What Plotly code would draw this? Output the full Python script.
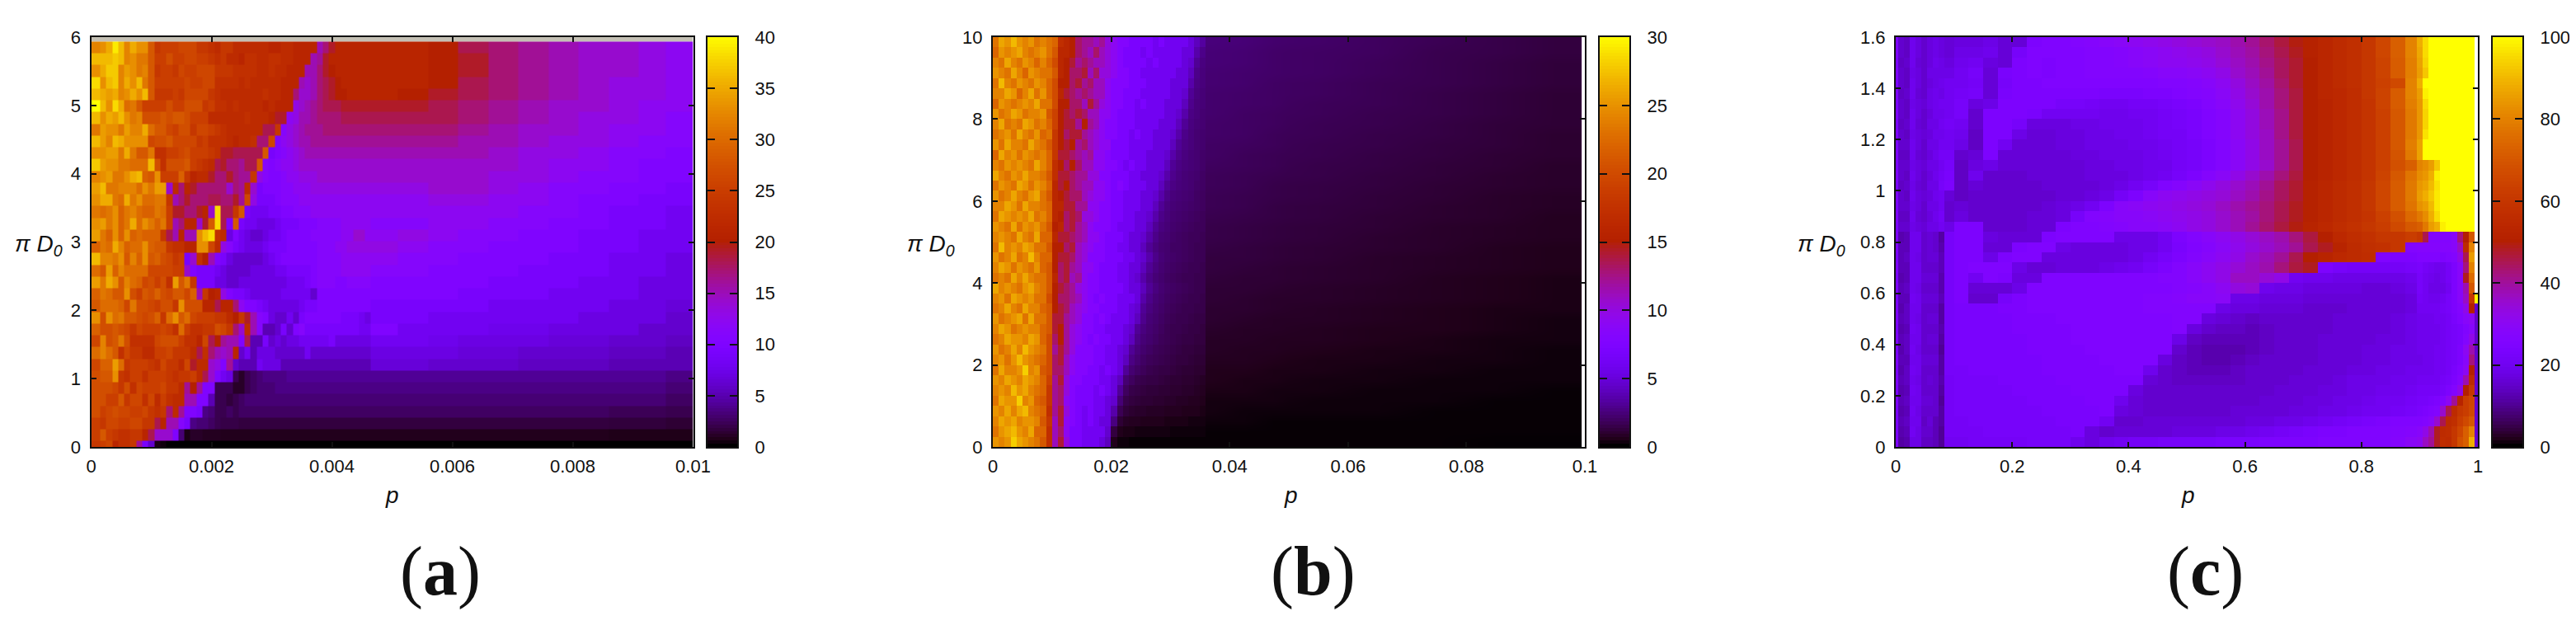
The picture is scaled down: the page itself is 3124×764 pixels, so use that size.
import math
import plotly.graph_objects as go

W, H = 3124, 764
OFF = 8            # the page's own body margin
FW, FH = W - 2*OFF, H - 2*OFF
TOP, BOT = 45, 542

def fx(px):
    return (px - OFF) / FW
def fy(px):
    return 1 - (px - OFF) / FH

# ---------- panel (a): rows listed from the top of the plot to the bottom ----------
a_left = [
[32,33,35,39,36,32,35,33,33,28,24,25,25,25,26,26,26,24,24,23,22,24,24,22,22,22,22,22,22,21,21,22,22,21,21,21,21,15,17,19,21,21,21,21,21,21],
[36,36,36,37,36,32,33,31,31,28,25,25,27,25,25,26,26,25,25,24,23,24,22,22,21,23,23,22,22,23,23,22,22,21,21,21,15,16,19,21,21,21,21,21,21,21],
[33,35,37,37,32,34,33,31,32,28,24,25,25,24,26,25,25,26,26,26,24,24,24,23,23,23,23,22,22,23,22,22,21,21,21,15,15,17,19,20,21,21,21,21,21,21],
[38,33,36,37,32,35,33,36,31,28,25,25,25,25,25,26,25,25,26,26,23,23,23,23,22,23,22,22,22,22,22,21,21,21,15,14,15,17,18,19,20,21,21,21,21,21],
[36,35,34,35,32,33,35,33,36,28,24,24,24,25,24,26,26,26,26,24,23,22,22,22,22,22,22,22,23,22,22,21,21,17,14,14,15,17,18,19,20,20,21,21,21,21],
[40,36,33,38,35,30,31,28,25,25,25,25,27,25,25,27,27,27,24,25,23,23,22,23,22,22,22,22,21,22,21,21,21,13,14,15,16,17,18,18,18,19,19,19,19,19],
[36,33,35,34,36,33,31,32,27,27,27,28,27,28,28,27,25,25,25,22,22,22,22,22,22,23,22,22,22,21,19,19,12,13,15,15,16,17,17,17,17,18,18,18,18,18],
[31,34,33,33,31,34,32,32,35,30,28,28,26,25,27,27,24,26,26,25,24,23,22,22,22,22,22,22,18,18,24,11,13,14,15,16,16,16,17,17,17,17,17,17,17,17],
[36,34,32,36,35,33,33,33,33,26,27,27,28,26,26,26,26,24,25,23,23,23,22,21,22,22,23,17,17,26,10,12,13,14,15,15,16,16,16,16,16,16,16,16,16,16],
[33,33,34,34,31,35,31,28,28,31,23,23,25,25,26,27,25,25,25,24,23,19,19,18,18,18,18,18,28,9,10,11,12,13,14,15,15,15,15,15,15,15,15,15,15,15],
[37,34,33,33,31,31,30,30,30,36,27,23,27,27,27,28,25,24,23,22,18,19,17,17,16,18,18,28,11,10,11,12,12,13,14,14,14,14,14,14,14,14,14,14,14,14],
[32,33,34,31,31,33,35,36,29,28,33,25,25,25,29,24,21,22,22,19,17,17,19,17,16,16,24,13,11,10,10,11,12,12,13,13,13,14,14,14,14,14,14,14,14,14],
[34,36,31,31,32,32,32,30,33,31,34,34,14,22,17,21,19,17,17,17,17,17,14,17,16,22,14,9,10,10,10,11,11,12,12,12,13,13,13,13,13,13,13,13,13,13],
[33,35,35,31,30,35,31,33,30,30,31,31,24,15,17,19,17,17,17,18,18,17,17,19,16,26,13,9,9,9,10,11,11,11,12,12,12,12,12,12,12,12,12,12,12,12],
[31,30,31,33,29,31,32,30,29,29,31,30,25,19,19,17,17,19,21,14,38,18,18,24,28,9,8,8,8,9,9,10,10,11,11,11,12,12,12,12,12,12,12,12,12,12],
[33,34,31,33,29,31,35,30,33,31,29,31,25,15,17,21,21,14,19,28,38,18,10,28,9,8,8,7,7,7,8,9,9,9,10,10,10,11,11,11,11,12,12,12,12,12],
[34,31,29,33,29,33,29,30,29,29,29,24,18,15,21,15,15,33,36,38,23,22,7,10,8,7,6,6,7,8,8,9,10,10,10,10,11,11,11,11,11,12,12,14,14,12],
[29,31,30,35,32,29,30,30,33,29,28,28,24,23,23,21,21,33,33,26,22,13,11,9,8,7,7,7,8,9,9,9,10,10,10,10,10,11,11,11,12,12,13,13,13,13],
[36,32,32,31,33,28,32,29,33,28,29,27,26,24,25,9,14,23,20,15,10,9,7,6,6,6,6,6,7,8,9,10,10,10,10,10,10,11,11,11,11,12,12,12,12,12],
[30,28,34,29,32,30,30,30,30,26,26,26,26,25,25,14,10,9,9,9,8,7,6,6,6,6,7,7,7,7,8,8,9,9,9,9,10,11,11,11,11,12,12,12,12,12],
[34,31,35,33,28,32,30,29,26,27,25,27,23,34,28,31,24,9,9,9,7,7,6,6,7,7,7,7,7,7,7,7,8,8,8,9,10,11,11,11,10,10,11,11,11,11],
[29,31,30,28,28,33,27,25,28,27,29,27,26,28,28,26,29,15,24,20,21,13,10,9,9,8,7,7,7,7,7,8,8,8,8,8,6,10,10,10,10,10,10,10,10,10],
[28,30,30,30,29,26,31,27,27,26,25,27,27,24,33,27,27,27,21,21,18,21,21,17,12,10,10,9,8,7,7,7,7,7,8,9,9,10,10,10,10,10,10,10,10,10],
[33,27,33,30,31,28,28,27,26,27,29,24,30,33,28,30,26,25,25,25,24,24,22,20,24,19,15,11,10,7,6,6,8,6,9,10,10,10,10,10,10,9,9,9,8,7],
[29,27,27,28,27,26,24,26,25,25,25,26,25,23,30,25,23,23,24,24,27,26,24,17,14,22,15,11,5,5,6,9,6,10,11,9,9,9,9,9,9,9,9,9,8,8],
[26,32,27,28,31,27,23,23,23,23,26,27,27,27,25,23,23,21,26,18,20,16,15,15,10,18,5,5,9,6,7,6,7,7,8,8,8,8,8,9,7,7,7,7,7,7],
[30,32,30,28,23,26,24,24,22,22,25,25,26,24,24,24,22,18,23,17,15,14,15,21,6,8,5,7,7,7,6,6,6,6,6,8,6,6,6,6,6,6,6,6,6,6],
[26,29,29,34,30,24,25,25,25,24,23,26,24,24,22,26,19,22,22,14,13,10,16,6,5,5,5,8,7,7,7,5,5,5,5,5,5,5,5,5,5,5,5,5,5,5],
[27,28,28,33,24,23,25,25,23,25,25,25,24,23,24,24,25,22,18,14,10,8,7,2,1,2,2.5,3,3.5,3.5,3.5,3.5,4,4,4,4,4,4,4,4,4,4,4,4,4,4],
[27,27,27,26,24,27,23,26,25,25,25,26,24,24,22,16,20,16,10,10,2,2,2,1,1,2,2.5,3,3,3,3.5,3.5,3.5,3.5,3.5,3.5,3.5,3.5,3.5,3.5,3.5,3.5,3.5,3.5,3.5,3.5],
[27,27,25,25,28,24,26,26,23,26,22,25,23,22,22,15,15,10,10,5,2,2,1.5,2,2.5,3,3,3,3,3,3,3,3,3,3,3,3,3,3,3,3,3,3,3,3,3],
[27,25,26,27,26,26,25,25,26,24,23,24,17,22,16,10,10,9,3.5,3,2,2,2.5,2,2.5,2.5,2.5,2.5,2.5,2.5,2.5,2.5,2.5,2.5,2.5,2.5,2.5,2.5,2.5,2.5,2.5,2.5,2.5,2.5,2.5,2.5],
[25,24,26,26,25,25,26,26,24,24,18,21,15,15,11,9,3.5,3,3,2.5,2,1.8,1.8,1.8,1.6,1.6,1.6,1.6,1.6,1.6,1.6,1.6,1.6,1.6,1.6,1.6,1.6,1.6,1.6,1.6,1.6,1.6,1.6,1.6,1.6,1.6],
[25,28,25,24,23,23,24,24,21,18,14,14,14,10,3,0.5,1,1,0.8,0.8,0.8,0.7,0.7,0.7,0.7,0.7,0.7,0.7,0.7,0.7,0.7,0.7,0.7,0.7,0.7,0.7,0.7,0.7,0.7,0.7,0.7,0.7,0.7,0.7,0.7,0.7],
[24,25,26,21,23,23,24,16,9,6,0.5,0.3,0,0,0,0,0,0,0,0,0,0,0,0,0,0,0,0,0,0,0,0,0,0,0,0,0,0,0,0,0,0,0,0,0,0],
]
a_right = [
[21,21,20,18,17,16,15,14,14,13,12],[21,21,20,19,17,16,15,14,14,13,12],[21,21,20,19,17,16,15,14,14,13,12],
[21,21,20,18,17,16,15,14,13,13,12],[21,20,19,18,17,16,15,14,13,13,12],[19,19,18,17,16,15,14,14,13,12,12],
[18,18,18,17,16,15,14,13,13,12,11],[17,17,17,16,15,14,14,13,12,12,11],[16,16,16,15,15,14,13,13,12,11,11],
[15,15,15,15,14,13,13,12,11,11,10],[14,14,14,14,14,13,12,12,11,10,10],[14,14,14,14,13,13,12,11,11,10,10],
[13,13,14,14,13,12,11,11,10,10,9],[12,12,13,13,12,12,11,10,10,9,9],[12,12,12,12,12,11,11,10,9,9,8],
[11,11,12,12,11,11,10,10,9,9,8],[12,13,12,11,11,10,10,9,9,8,8],[13,12,11,11,10,10,10,9,9,8,8],
[12,11,11,10,10,10,9,9,8,8,7],[11,11,10,10,10,9,9,9,8,8,7],[10,10,10,10,9,9,9,8,8,7,7],
[10,10,10,9,9,9,8,8,8,7,7],[9,9,9,9,8,8,8,8,7,7,6.5],[9,9,8,8,8,8,8,7,7,7,6],
[10,8,8,8,7.5,7.5,7,7,7,6,6],[8,8,7.5,7,7,7,6.5,6.5,6,6,5.5],[7,7,7,6.5,6.5,6,6,6,5.5,5.5,5],
[6.5,6.5,6,6,6,5.5,5.5,5.5,5,5,5],[4,4,4,4,4,4,4,4,4,4,3.5],[3.5,3.5,3.5,3.5,3.5,3.5,3.5,3.5,3.5,3.5,3],
[3,3,3,3,3,3,3,3,3,3,2.5],[2.5,2.5,2.5,2.5,2.5,2.5,2.5,2.5,2.2,2.2,2],[1.6,1.6,1.6,1.6,1.6,1.6,1.6,1.6,1.5,1.5,1.3],
[0.7,0.7,0.7,0.7,0.7,0.7,0.7,0.7,0.6,0.6,0.6],[0,0,0,0,0,0,0,0,0,0,0],
]
a_col_edges_right = [0.0051,0.0056,0.0061,0.0066,0.0071,0.0076,0.0081,0.0086,0.0091,0.00955,0.01]
a_ticks_x = [0,0.002,0.004,0.006,0.008,0.01]
a_ticks_y = [0,1,2,3,4,5,6]
a_cb_ticks = [0,5,10,15,20,25,30,35,40]

# ---------- panel (b): rows from top to bottom, in three blocks of columns ----------
b_noise = [
[23,26,25,27,25,24,25,23,24,23],[22,25,24,25,26,24,23,24,25,23],[24,23,26,24,23,25,24,22,24,22],[25,24,23,26,24,22,25,24,23,23],
[23,27,24,23,25,24,23,25,24,22],[24,24,26,25,22,24,26,23,25,22],[22,25,24,23,24,25,24,26,23,23],[25,23,24,26,25,23,24,24,25,21],
[24,26,23,24,23,26,25,23,24,22],[23,24,25,23,26,24,23,25,22,23],[25,23,26,24,24,23,26,24,23,21],[22,26,24,25,23,25,24,23,24,22],
[24,23,25,24,25,24,23,26,24,22],[26,24,23,25,24,26,24,24,23,21],[23,25,24,23,26,25,23,25,24,22],[25,23,24,26,24,23,25,26,23,21],
[24,24,26,25,23,26,24,24,23,22],[23,26,25,24,25,24,26,23,24,22],[25,24,23,26,23,25,24,25,23,21],[24,25,24,23,26,24,23,26,22,22],
[23,27,24,25,24,26,25,23,23,21],[25,23,24,26,23,24,27,24,22,22],[24,26,25,23,25,24,23,25,22,21],[23,24,23,26,24,26,24,23,23,21],
[26,24,25,24,23,25,26,24,23,21],[24,25,23,26,25,24,25,23,23,20],[23,24,26,24,23,26,24,24,22,21],[25,23,24,25,26,23,26,23,23,21],
[24,26,25,23,24,25,24,24,22,21],[23,24,26,25,25,24,26,25,22,20],[25,23,24,26,24,27,25,24,23,20],[24,25,23,25,27,25,24,23,22,20],
[23,26,24,24,25,28,24,25,21,20],[25,24,26,25,24,26,25,24,22,19],[24,25,24,27,25,26,24,23,22,18],[23,26,25,25,28,24,25,22,21,18],
[25,24,26,24,26,27,24,23,22,17],[24,26,25,26,24,25,25,24,21,18],[23,25,26,27,25,24,26,22,22,17],[25,24,25,28,26,25,24,23,21,17],
]
b_band = [
[22,17,16,15,13,12,12,11,12,10,9,8,8,7,7,7,7,6,7,6,6,6,6,5,4,3.2],
[21,16,16,15,13,12,11,13,11,10,9,8,7,7,7,6,7,6,6,6,6,6,5,5,3.5,2.7],
[20,16,15,14,12,13,12,11,11,10,9,8,7,7,7,7,6,7,6,6,6,6,5,4.5,3,2.5],
[21,16,15,13,13,14,11,13,10,10,9,8,8,7,7,6,6,6,6,6,6,5,5,4,2.7,2.4],
[20,15,15,13,14,12,13,11,11,9,8,8,8,7,7,7,6,6,6,6,5,5,5,3.5,2.6,2.4],
[20,16,14,13,12,13,12,11,11,9,8,8,7,7,7,6,6,6,6,6,5,5,4.5,3,2.5,2.3],
[20,15,15,13,13,11,14,12,10,9,8,8,7,7,6,7,6,6,6,5,5,5,4,2.8,2.4,2.3],
[19,15,14,13,14,13,11,11,9,9,8,7,7,7,6,6,6,6,6,5,5,4.5,3.5,2.6,2.4,2.2],
[19,15,14,14,12,15,12,11,9,8,8,7,7,7,6,6,6,6,5,5,5,4,3,2.5,2.3,2.2],
[18,15,13,14,14,12,11,10,9,8,8,7,7,6,7,6,6,5,5,5,4.5,3.5,2.7,2.4,2.2,2.1],
[18,15,14,15,12,13,11,10,9,9,7,7,7,6,6,6,6,5,5,5,4,3,2.6,2.4,2.2,2.1],
[18,14,14,13,12,11,12,9,9,8,7,7,7,6,6,6,5,5,5,4.5,3.5,2.8,2.5,2.3,2.2,2.0],
[17,15,13,15,13,11,11,9,9,8,8,7,6,7,6,6,5,5,5,4,3,2.6,2.4,2.3,2.2,2.0],
[17,14,14,13,12,12,10,10,8,8,7,7,7,6,6,5,5,5,4.5,3.5,2.8,2.5,2.3,2.2,2.1,1.9],
[16,14,15,13,12,11,11,9,9,8,7,8,7,6,6,6,5,5,4,3,2.6,2.4,2.3,2.2,2.0,1.9],
[16,15,14,13,13,11,10,9,9,8,7,7,6,6,6,5,5,4.5,3.5,2.7,2.4,2.3,2.2,2.1,1.9,1.8],
[16,16,14,14,12,12,9,9,8,8,7,7,6,6,6,5,5,4,3,2.5,2.3,2.2,2.1,2.0,1.9,1.8],
[16,15,13,14,13,10,10,9,8,8,7,7,6,6,5,5,4.5,3.5,2.7,2.4,2.2,2.1,2.0,1.9,1.8,1.7],
[15,16,13,14,12,11,9,8,8,8,7,6,6,6,5,5,4,3,2.5,2.3,2.1,2.0,1.9,1.8,1.7,1.7],
[16,14,14,13,12,11,9,9,8,7,7,7,6,5,5,4.5,3.5,2.7,2.3,2.2,2.0,1.9,1.8,1.7,1.7,1.6],
[15,15,13,14,11,10,9,8,8,7,7,6,6,5,5,4,3,2.5,2.2,2.1,1.9,1.9,1.8,1.7,1.6,1.6],
[15,14,14,13,11,10,8,8,8,7,7,7,6,6,5,4.5,3.5,2.7,2.3,2.1,2.0,1.9,1.8,1.7,1.6,1.6],
[15,13,14,12,11,9,9,8,7,7,7,6,6,5,5,4,3,2.5,2.2,2.0,1.9,1.8,1.7,1.6,1.6,1.5],
[16,13,14,11,12,9,8,8,7,7,7,6,6,5,4.5,3.5,2.7,2.3,2.1,1.9,1.8,1.7,1.6,1.6,1.5,1.5],
[15,14,13,12,10,9,8,8,7,7,7,7,6,5,5,4,3,2.5,2.2,2.0,1.9,1.8,1.7,1.6,1.5,1.5],
[15,13,13,12,11,9,8,7,8,7,7,6,6,6,5,3.5,2.7,2.3,2.1,1.9,1.8,1.7,1.6,1.5,1.5,1.4],
[15,14,13,11,10,9,8,8,7,7,7,6,6,5,4.5,3,2.5,2.2,2.0,1.8,1.7,1.6,1.5,1.5,1.4,1.4],
[14,14,12,11,10,8,8,7,8,7,6,6,6,5,4,2.8,2.3,2.1,1.9,1.7,1.6,1.5,1.5,1.4,1.3,1.3],
[14,15,12,10,9,8,8,7,7,6,6,6,5,4.5,3,2.5,2.2,2.0,1.8,1.6,1.5,1.5,1.4,1.3,1.3,1.2],
[13,15,12,10,9,8,7,8,7,7,6,6,5,4,2.7,2.3,2.1,1.9,1.7,1.6,1.5,1.4,1.3,1.3,1.2,1.2],
[12,14,12,10,8,8,8,7,7,6,6,5,4.5,3,2.4,2.1,1.9,1.7,1.6,1.5,1.4,1.3,1.2,1.2,1.1,1.1],
[13,14,11,9,8,8,8,7,7,6,6,5,4,2.6,2.2,1.9,1.7,1.6,1.5,1.4,1.3,1.2,1.2,1.1,1.0,1.0],
[13,13,11,9,8,8,7,7,6,7,6,5,3,2.2,1.9,1.7,1.5,1.4,1.3,1.3,1.2,1.1,1.0,1.0,0.9,0.9],
[12,14,10,8,8,7,7,7,6,6,5,4,2.2,1.8,1.5,1.4,1.3,1.3,1.2,1.1,1.0,1.0,0.9,0.9,0.8,0.7],
[12,13,10,8,7,7,7,6,7,6,5,3,1.8,1.4,1.3,1.2,1.1,1.1,1.0,1.0,0.9,0.9,0.8,0.8,0.7,0.6],
[12,13,9,8,7,7,7,6,6,5,4.5,2.3,1.4,1.2,1.1,1.0,1.0,0.9,0.9,0.8,0.8,0.7,0.7,0.6,0.6,0.5],
[12,14,10,8,7,6,7,6,6,5,3.5,1.6,1.1,0.9,0.8,0.8,0.7,0.7,0.7,0.6,0.6,0.6,0.5,0.5,0.5,0.4],
[11,14,9,8,7,6,7,6,5,5,2.5,1.0,0.7,0.6,0.6,0.5,0.5,0.5,0.5,0.4,0.4,0.4,0.4,0.3,0.3,0.3],
[11,13,9,7,7,6,6,6,6,4.5,1.2,0.5,0.4,0.4,0.3,0.3,0.3,0.3,0.3,0.3,0.2,0.2,0.2,0.2,0.2,0.2],
[11,14,10,7,7,6,6,6,5,4,0.5,0.2,0.2,0.1,0.1,0.1,0.1,0.1,0.1,0.1,0.1,0.1,0.1,0.1,0.1,0.1],
]
b_tail = [
[2.4,2.3,2.1,2.0,1.8,1.6,1.4,1.2],[2.3,2.2,2.0,1.9,1.8,1.5,1.4,1.2],[2.3,2.2,2.0,1.9,1.7,1.5,1.3,1.1],[2.2,2.1,2.0,1.9,1.7,1.5,1.3,1.1],
[2.2,2.1,1.9,1.8,1.6,1.5,1.3,1.1],[2.1,2.0,1.9,1.8,1.6,1.4,1.2,1.0],[2.1,2.0,1.9,1.7,1.6,1.4,1.2,1.0],[2.1,1.9,1.8,1.7,1.5,1.4,1.2,1.0],
[2.0,1.9,1.8,1.6,1.5,1.3,1.1,1.0],[2.0,1.9,1.7,1.6,1.4,1.3,1.1,0.9],[1.9,1.8,1.7,1.5,1.4,1.2,1.1,0.9],[1.9,1.7,1.6,1.5,1.3,1.2,1.0,0.9],
[1.8,1.7,1.6,1.4,1.3,1.1,1.0,0.8],[1.7,1.6,1.5,1.4,1.2,1.1,0.9,0.8],[1.7,1.6,1.4,1.3,1.2,1.0,0.9,0.8],[1.6,1.5,1.4,1.3,1.1,1.0,0.8,0.7],
[1.6,1.5,1.3,1.2,1.1,0.9,0.8,0.7],[1.5,1.4,1.3,1.2,1.0,0.9,0.8,0.6],[1.4,1.3,1.2,1.1,1.0,0.8,0.7,0.6],[1.4,1.3,1.2,1.1,0.9,0.8,0.7,0.6],
[1.3,1.2,1.1,1.0,0.9,0.8,0.6,0.5],[1.2,1.2,1.1,1.0,0.8,0.7,0.6,0.5],[1.2,1.1,1.0,0.9,0.8,0.7,0.6,0.5],[1.1,1.0,1.0,0.9,0.8,0.6,0.5,0.4],
[1.0,1.0,0.9,0.8,0.7,0.6,0.5,0.4],[1.0,0.9,0.8,0.8,0.7,0.6,0.5,0.4],[0.9,0.9,0.8,0.7,0.6,0.5,0.4,0.4],[0.9,0.8,0.7,0.7,0.6,0.5,0.4,0.3],
[0.8,0.7,0.7,0.6,0.5,0.5,0.4,0.3],[0.7,0.7,0.6,0.6,0.5,0.4,0.3,0.3],[0.7,0.6,0.6,0.5,0.4,0.4,0.3,0.2],[0.6,0.6,0.5,0.4,0.4,0.3,0.3,0.2],
[0.5,0.5,0.4,0.4,0.3,0.3,0.2,0.2],[0.5,0.4,0.4,0.3,0.3,0.2,0.2,0.2],[0.4,0.4,0.3,0.3,0.2,0.2,0.2,0.1],[0.3,0.3,0.3,0.2,0.2,0.2,0.1,0.1],
[0.3,0.2,0.2,0.2,0.2,0.1,0.1,0.1],[0.2,0.2,0.1,0.1,0.1,0.1,0.1,0.1],[0.1,0.1,0.1,0.1,0.1,0.1,0.1,0.1],[0.1,0.1,0.1,0.1,0.1,0.1,0.05,0.05],
]
b_col_edges = [0,0.001,0.002,0.003,0.004,0.005,0.006,0.007,0.008,0.009,0.01,0.011,0.012,0.013,0.014,0.015,0.016,0.017,0.018,0.019,0.02,0.021,0.022,0.023,0.024,0.025,0.026,0.027,0.028,0.029,0.03,0.031,0.032,0.033,0.034,0.035,0.036]
b_tail_edges = [0.034,0.04,0.045,0.05,0.06,0.07,0.08,0.09,0.0995]
b_ticks_x = [0,0.02,0.04,0.06,0.08,0.1]
b_ticks_y = [0,2,4,6,8,10]
b_cb_ticks = [0,5,10,15,20,25,30]

# ---------- panel (c): rows from top (D=1.58) to bottom (D=0.02); None = not drawn ----------
N = None
c_rows = [
[24,15,14,19,17,15,17,18,17,16, 17,17,18,16,16,24,25,25,26,27,28,29,30,31,32,33,34,35,36,38,40,43,46,49,51,53,55,57,60,65,72,80, 88,95,100,100,100,100,100,100,100,100,N],
[24,15,14,19,17,15,17,18,17,16, 18,18,19,16,22,25,25,25,25,26,26,27,28,29,30,31,32,33,35,37,39,42,45,48,51,53,55,57,60,65,72,80, 87,95,100,100,100,100,100,100,100,100,N],
[23,14,15,19,16,15,17,19,18,17, 19,20,17,16,24,25,24,25,25,26,26,27,28,29,30,30,31,32,34,36,38,41,44,47,50,53,55,57,60,64,71,79, 86,94,100,100,100,100,100,100,100,100,N],
[24,15,14,18,17,15,18,18,18,18, 20,22,16,23,24,25,24,25,25,26,26,26,26,27,28,28,29,30,32,35,37,40,44,47,50,53,55,57,60,64,71,79, 85,92,100,100,100,100,100,100,100,100,N],
[23,15,14,19,17,15,17,18,19,20, 20,21,16,22,24,24,25,25,25,25,25,25,25,25,26,26,27,28,30,33,36,39,43,47,50,53,55,57,60,63,66,80, 88,100,100,100,100,100,100,100,100,100,N],
[24,14,15,19,16,15,18,19,18,20, 21,22,16,23,24,24,24,24,24,24,23,23,23,24,24,25,26,27,29,32,35,38,42,46,50,53,54,56,60,64,71,80, 85,98,100,100,100,100,100,100,100,100,N],
[23,15,14,18,17,16,18,19,20,20, 22,17,18,24,24,24,24,22,22,21,20,20,21,21,22,23,24,26,28,31,34,38,42,46,50,52,54,56,59,64,71,79, 84,95,100,100,100,100,100,100,100,100,N],
[24,15,14,19,17,15,17,19,19,20, 22,15,24,24,24,23,20,20,20,20,19,19,20,20,21,22,23,25,27,30,33,37,41,46,50,52,54,56,59,63,70,78, 84,94,100,100,100,100,100,100,100,100,N],
[23,14,15,19,16,15,18,18,20,21, 20,15,24,24,22,17,17,17,18,18,19,19,19,20,21,22,23,25,27,30,33,37,41,46,50,52,54,56,59,63,70,78, 84,94,100,100,100,100,100,100,100,100,N],
[24,15,14,18,17,16,17,19,19,20, 19,14,24,24,18,16,16,17,17,18,18,19,19,20,21,21,23,25,27,30,33,36,41,46,50,52,54,56,59,63,70,78, 84,96,100,100,100,100,100,100,100,100,N],
[23,15,15,19,17,15,18,18,20,20, 18,14,24,20,16,16,16,17,17,18,18,18,19,19,20,21,22,24,26,29,32,36,40,45,50,52,54,56,59,63,70,79, 86,100,100,100,100,100,100,100,100,100,N],
[24,14,14,19,16,15,17,19,21,21, 15,16,24,16,16,16,16,16,17,17,18,18,18,19,20,21,22,24,26,29,32,36,40,45,50,52,54,56,59,63,69,78, 86,100,100,100,100,100,100,100,100,100,N],
[23,15,15,18,17,16,18,18,20,22, 14,17,18,16,16,16,16,16,16,17,17,18,18,19,19,21,22,24,26,29,32,35,40,45,50,52,54,56,59,63,68,72, 80,82,85,92,100,100,100,100,100,100,N],
[24,15,14,19,17,15,17,19,21,23, 14,19,15,15,15,16,16,16,16,17,17,17,18,19,20,22,24,27,29,32,35,38,42,46,50,52,54,56,59,64,70,77, 82,84,88,98,100,100,100,100,100,100,N],
[23,14,15,18,16,15,18,18,22,24, 14,16,15,15,15,15,16,16,16,16,17,18,20,22,25,27,29,31,33,35,37,40,44,47,51,53,55,57,60,65,71,78, 84,86,90,96,100,100,100,100,100,100,N],
[24,15,14,19,17,16,17,19,20,16, 14,15,15,15,15,15,15,16,16,17,18,21,24,28,30,31,32,33,34,36,38,41,44,47,51,53,55,57,60,65,71,78, 85,88,92,97,100,100,100,100,100,100,N],
[23,15,15,18,17,15,18,18,20,15, 16,15,15,15,15,15,16,17,18,20,24,28,29,30,31,32,33,34,36,38,40,42,45,48,51,53,55,57,60,65,71,77, 83,85,90,97,100,100,100,100,100,100,N],
[24,14,14,19,16,15,17,19,21,15, 17,15,15,15,15,16,16,17,22,26,27,28,28,29,30,31,32,33,35,37,39,42,45,48,51,53,55,57,59,63,68,74, 78,82,88,95,100,100,100,100,100,100,N],
[23,15,15,18,17,16,18,18,20,18, 24,24,15,15,15,16,16,24,25,25,26,27,28,28,29,30,32,33,35,37,40,43,46,49,52,54,56,58,60,62,66,70, 72,78,85,88,98,100,100,100,100,100,N],
[24,12,13,19,19,15,16,15,11,22, 24,24,17,16,16,16,24,25,25,25,25,18,18,18,20,24,26,28,30,32,34,36,38,42,46,50,54,56,58,60,60,62, 60,45,26,26,26,26,28,42,50,70,N],
[24,13,13,19,19,15,16,15,12,22, 24,24,16,16,24,25,25,18,17,17,17,17,18,18,20,23,25,27,29,31,33,35,37,40,45,48,52,55,57,58,60,26, 27,27,27,27,27,27,28,36,55,80,N],
[23,13,14,19,18,15,16,16,13,22, 24,24,18,24,25,25,17,17,17,17,17,17,18,20,22,24,26,28,30,32,35,37,40,45,50,52,54,55,56,25,24,24, 25,25,25,25,24,25,26,32,45,85,N],
[24,13,13,19,19,15,15,15,13,22, 24,25,25,25,18,16,16,17,17,17,18,19,20,22,24,26,28,30,32,34,36,38,42,46,48,24,22,21,21,21,21,22, 23,21,20,19,19,21,24,28,42,80,N],
[23,12,13,19,19,16,16,16,12,22, 24,20,25,24,17,17,25,25,25,25,25,25,25,25,26,26,28,30,32,36,36,34,32,20,19,19,18,18,18,18,18,19, 22,20,19,18,19,21,24,28,48,75,N],
[24,13,14,19,18,15,15,15,12,22, 24,16,16,16,18,25,25,25,25,25,25,25,25,25,25,26,27,28,30,33,34,19,18,18,17,17,17,17,16,16,17,18, 22,20,18,18,18,20,24,28,38,70,N],
[23,13,13,20,19,16,16,16,13,22, 24,15,15,22,24,25,25,25,25,25,25,25,25,26,26,27,28,28,29,18,18,17,17,17,16,16,16,16,16,16,16,17, 21,20,19,19,20,22,24,28,36,60,100],
[24,12,14,19,19,15,15,15,11,22, 23,23,23,24,24,25,25,25,25,25,25,25,25,26,26,26,26,26,18,17,17,16,16,16,15,15,15,16,16,16,16,17, 20,20,20,20,21,22,24,26,32,50,15],
[24,13,14,19,18,15,16,16,11,22, 23,23,23,23,24,24,24,25,25,25,25,25,25,25,25,26,26,17,16,15,14,15,15,15,15,15,16,16,16,16,17,18, 19,19,19,20,20,21,23,25,28,30,15],
[23,12,13,20,19,15,15,15,12,22, 23,23,23,23,24,24,24,24,25,25,25,25,25,25,25,26,17,15,14,14,13,14,15,15,15,15,16,16,16,16,17,18, 19,19,19,19,20,21,22,23,25,28,15],
[24,13,14,19,19,15,16,16,11,22, 23,23,23,23,23,24,24,24,25,25,25,25,25,25,25,18,14,13,13,13,13,14,15,15,15,16,16,16,16,17,17,18, 19,19,19,19,20,21,22,23,26,32,15],
[23,12,14,20,18,15,15,15,10,22, 23,23,23,23,23,24,24,24,24,25,25,25,25,25,25,15,13,12,12,12,13,14,15,15,15,16,16,16,17,17,18,18, 19,19,19,20,20,21,22,24,30,38,15],
[24,13,13,19,19,16,16,16,11,22, 23,23,23,23,23,23,24,24,24,24,25,25,25,25,17,14,13,12,12,13,14,15,15,15,15,16,16,16,17,17,18,18, 18,19,19,20,20,21,22,24,28,42,15],
[23,12,14,20,19,15,15,15,11,22, 22,23,23,23,23,23,24,24,24,24,24,25,25,19,15,14,13,13,13,14,15,15,15,15,16,16,16,17,17,18,18,19, 19,19,19,20,20,21,23,25,30,50,15],
[24,13,14,19,18,15,16,15,12,21, 22,22,22,23,23,23,23,24,24,24,24,24,24,16,15,14,14,14,14,14,15,15,15,16,16,16,17,18,18,18,19,19, 20,20,20,20,21,22,24,27,38,55,15],
[23,12,13,20,19,15,15,15,11,21, 22,22,22,22,23,23,23,23,24,24,24,24,17,15,15,15,15,15,15,15,15,15,16,16,16,17,17,18,18,19,19,20, 21,21,21,21,22,24,26,32,50,60,15],
[24,13,14,19,19,16,16,15,10,21, 22,22,22,22,22,23,23,23,23,24,24,19,16,15,15,15,15,15,15,15,15,16,16,16,17,17,18,18,19,20,20,21, 22,22,23,24,25,30,40,52,62,65,15],
[23,12,13,20,18,15,15,15,11,21, 22,22,22,22,22,22,23,23,23,23,24,17,16,15,15,15,15,15,15,16,16,16,16,17,17,18,18,19,20,20,21,22, 23,24,25,26,35,45,55,60,62,66,15],
[23,13,14,19,19,14,16,13,11,21, 21,22,22,22,22,22,22,23,23,23,20,15,15,16,16,16,16,16,16,16,17,17,18,18,19,20,21,22,23,24,25,25, 25,26,28,35,45,55,57,62,66,70,15],
[23,12,13,20,18,15,15,13,10,21, 21,21,22,22,22,22,22,22,23,17,15,16,16,16,16,17,17,17,18,18,19,20,21,22,23,24,24,25,25,25,26,27, 28,32,38,48,55,56,60,65,72,80,15],
[24,11,12,18,18,14,14,13,10,20, 20,21,21,21,21,22,22,22,19,17,19,20,21,21,22,22,22,22,23,23,23,24,24,24,24,25,25,25,25,25,27,29, 30,36,40,48,56,55,60,68,72,88,15],
]
c_left_edges = [0,0.004,0.014,0.024,0.034,0.044,0.054,0.064,0.074,0.084,0.1]
c_mid_edges = [0.125,0.15,0.175,0.2,0.225,0.25,0.275,0.3,0.325,0.35,0.375,0.4,0.425,0.45,0.475,0.5,0.525,0.55,0.575,0.6,0.625,0.65,0.675,0.7,0.725,0.75,0.775,0.8,0.825,0.85,0.875,0.895]
c_right_edges = [0.905,0.915,0.925,0.935,0.945,0.955,0.965,0.975,0.985,0.995,1.0]
c_ticks_x = [0,0.2,0.4,0.6,0.8,1]
c_ticks_y = [0,0.2,0.4,0.6,0.8,1,1.2,1.4,1.6]
c_cb_ticks = [0,20,40,60,80,100]

# ---------- palette: gnuplot rgbformulae 7,5,15 ----------
def pal(x):
    r = math.sqrt(x); g = x**3; b = max(math.sin(2*math.pi*x), 0)
    return f"rgb({round(255*r)},{round(255*g)},{round(255*b)})"
scale = [[i/64, pal(i/64)] for i in range(65)]

# ---------- assemble grids ----------
a_x = [0] + [0.00005+0.0001*k for k in range(1, 47)] + a_col_edges_right
a_h = 0.172
a_y = [0] + [(k+0.5)*a_h for k in range(35)]
a_z = [(l + [l[-1]]*46)[:46] + r for l, r in zip(a_left, a_right)][::-1]

b_y = [0.25*k for k in range(41)]
b_z = [n_ + b_[:26] for n_, b_ in zip(b_noise, b_band)][::-1]

c_x = c_left_edges + c_mid_edges + c_right_edges
c_y = [0.04*k for k in range(41)]
c_z = c_rows[::-1]

panels = [
    dict(x=a_x, y=a_y, z=a_z, zmax=40, xr=[0,0.01], yr=[0,6], px=(110.5,840.5), cb=(858,894),
         tx=a_ticks_x, ty=a_ticks_y, tc=a_cb_ticks, p=475, lab=78, let="a", lx=534),
    dict(x=b_col_edges, y=b_y, z=b_z, zmax=30, xr=[0,0.1], yr=[0,10], px=(1204,1922), cb=(1940,1976),
         tx=b_ticks_x, ty=b_ticks_y, tc=b_cb_ticks, p=1565, lab=1160, let="b", lx=1592),
    dict(x=c_x, y=c_y, z=c_z, zmax=100, xr=[0,1], yr=[0,1.6], px=(2299,3005), cb=(3023,3059),
         tx=c_ticks_x, ty=c_ticks_y, tc=c_cb_ticks, p=2653, lab=2240, let="c", lx=2674),
]

FONT = dict(family="Liberation Sans, Arial, sans-serif", size=22, color="#111111")
fig = go.Figure()
layout = dict(template="none", width=FW, height=FH, autosize=False, margin=dict(l=0, r=0, t=0, b=0),
              paper_bgcolor="white", plot_bgcolor="white", showlegend=False)
ann = []
n = 1
for P in panels:
    xa, ya, xb, yb = f"xaxis{n}", f"yaxis{n}", f"xaxis{n+1}", f"yaxis{n+1}"
    xr_, yr_, xc_, yc_ = f"x{n}", f"y{n}", f"x{n+1}", f"y{n+1}"
    dom_y = [fy(BOT), fy(TOP)]
    if P["let"] == "b":
        fig.add_trace(go.Heatmap(x=b_tail_edges, y=b_y, z=b_tail[::-1], zmin=0, zmax=P["zmax"], colorscale=scale,
                                 showscale=False, xaxis=xr_, yaxis=yr_, zsmooth="best"))
    fig.add_trace(go.Heatmap(x=P["x"], y=P["y"], z=P["z"], zmin=0, zmax=P["zmax"], colorscale=scale,
                             showscale=False, xaxis=xr_, yaxis=yr_, hoverongaps=False))
    levels = [P["zmax"]*i/128 for i in range(129)]
    fig.add_trace(go.Heatmap(x=[0,1], y=levels, z=[[v] for v in levels[:-1]], zmin=0, zmax=P["zmax"],
                             colorscale=scale, showscale=False, xaxis=xc_, yaxis=yc_))
    common = dict(automargin=False, showline=True, linecolor="#111111", linewidth=2, mirror="ticks", ticks="inside",
                  tickcolor="#111111", tickwidth=1.5, showgrid=False, zeroline=False, tickfont=FONT)
    layout[xa] = dict(domain=[fx(P["px"][0]), fx(P["px"][1])], anchor=yr_, range=P["xr"], tickvals=P["tx"],
                      ticktext=[f"{v:g}" for v in P["tx"]], ticklen=6, ticklabelstandoff=3, **common)
    layout[ya] = dict(domain=dom_y, anchor=xr_, range=P["yr"], tickvals=P["ty"],
                      ticktext=[f"{v:g}" for v in P["ty"]], ticklen=6, ticklabelstandoff=6, **common)
    layout[xb] = dict(domain=[fx(P["cb"][0]), fx(P["cb"][1])], anchor=yc_, range=[0,1], showticklabels=False, automargin=False,
                      showline=True, linecolor="#111111", linewidth=1.5, mirror=True, ticks="", showgrid=False, zeroline=False)
    layout[yb] = dict(domain=dom_y, anchor=xc_, side="right", range=[0,P["zmax"]], tickvals=P["tc"],
                      ticktext=[f"{v:g}" for v in P["tc"]], ticklen=9, ticklabelstandoff=15, **common)
    ann.append(dict(text="<i>p</i>", x=fx(P["p"]), y=fy(600), xref="paper", yref="paper", showarrow=False,
                    xanchor="center", yanchor="middle", font=dict(family="Liberation Sans", size=28, color="#111111")))
    ann.append(dict(text="<i>π D<sub>0</sub></i>", x=fx(P["lab"]), y=fy(297), xref="paper", yref="paper", showarrow=False,
                    xanchor="right", yanchor="middle", font=dict(family="Liberation Sans", size=28, color="#111111")))
    ann.append(dict(text=f"(<b>{P['let']}</b>)", x=fx(P["lx"]), y=fy(693), xref="paper", yref="paper", showarrow=False,
                    xanchor="center", yanchor="middle", font=dict(family="Liberation Serif", size=84, color="#111111")))
    n += 2

layout["annotations"] = ann
layout["shapes"] = [dict(type="rect", xref="x1", yref="y1", x0=0, x1=0.01, y0=a_y[-1], y1=6,
                         fillcolor="#c4c0b4", line=dict(width=0), layer="below")]
fig.update_layout(**layout)
fig.write_html("out.html")
